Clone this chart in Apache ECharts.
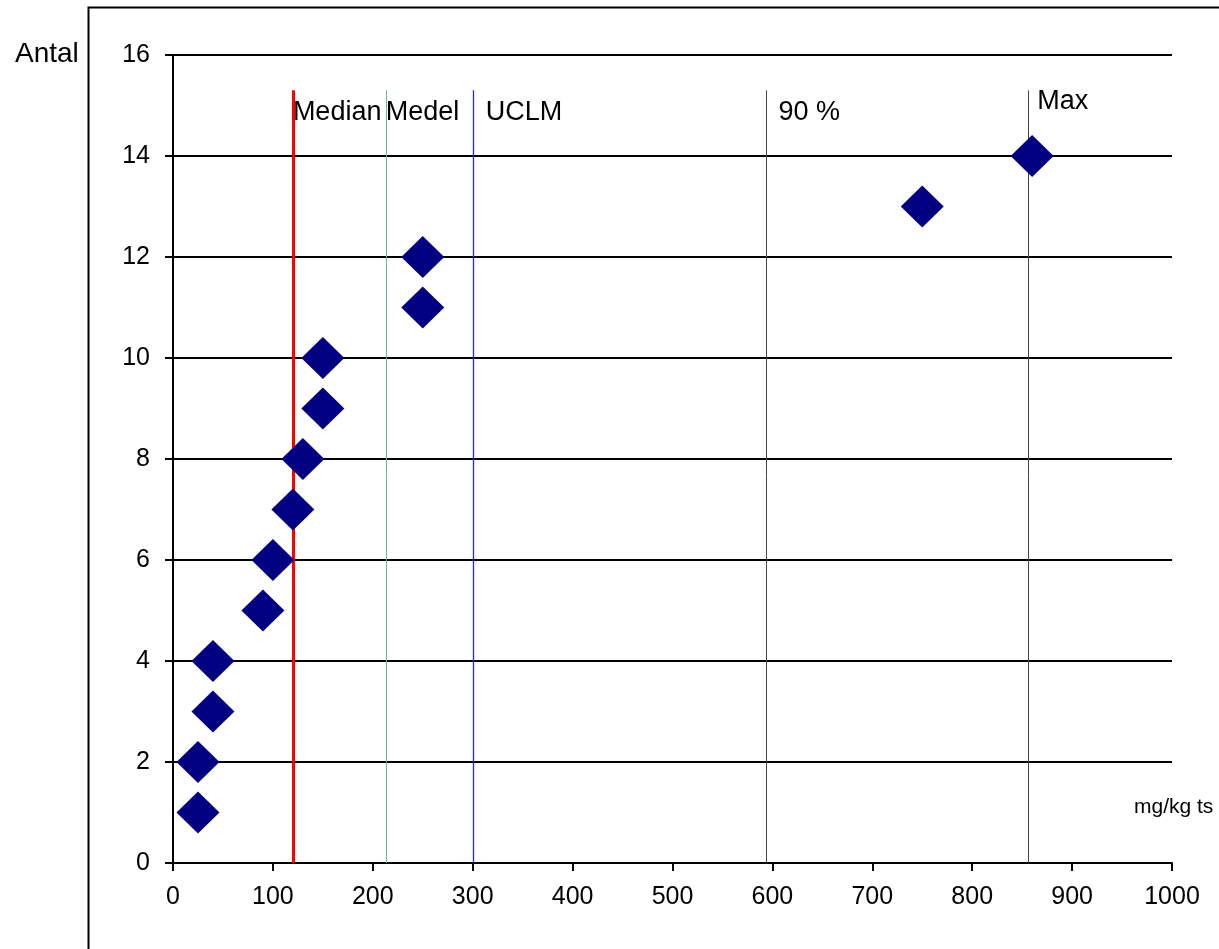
<!DOCTYPE html>
<html><head><meta charset="utf-8">
<script src="https://cdn.jsdelivr.net/npm/echarts@6/dist/echarts.min.js"></script>
<style>html,body{margin:0;padding:0;background:#fff}#c{width:1219px;height:949px}</style>
</head><body><div id="c"></div>
<script>
const countY = [1,2,3,4,5,6,7,8,9,10,11,12,13,14];
const valueX = [25,25,40,40,90,100,120,130,150,150,250,250,750,860];
const refNames = ['Median','Medel','UCLM','90 %','Max'];
const refValues = [120,213,301,594,856];
const refColors = ['#ff0000','#66bb88','#1a2aff','#444444','#444444'];
const refWidths = [3,1,1.3,1,1];
const labelY = [14.87,14.87,14.87,14.87,15.07];
const yTicks = [0,2,4,6,8,10,12,14,16];
const xTicks = [0,100,200,300,400,500,600,700,800,900,1000];

const chart = echarts.init(document.getElementById('c'));
const font = 'Liberation Sans, Arial, sans-serif';
const pts = valueX.map((v,i)=>[v,countY[i]]);
const labelOffsets = [0,0,12,12,9];
chart.setOption({
  animation:false,
  grid:{left:173,top:55,width:999,height:808,containLabel:false},
  xAxis:{type:'value',min:0,max:1000,interval:100,
    axisLine:{show:true,onZero:false,lineStyle:{color:'#000',width:2}},
    axisTick:{show:true,length:8,lineStyle:{color:'#000',width:2}},
    splitLine:{show:false},
    axisLabel:{color:'#000',fontSize:25,fontFamily:font,margin:22,
      formatter:v=>xTicks.includes(v)?String(v):''}},
  yAxis:{type:'value',min:0,max:16,interval:2,
    axisLine:{show:true,lineStyle:{color:'#000',width:2}},
    axisTick:{show:true,length:8,lineStyle:{color:'#000',width:2}},
    splitLine:{show:true,lineStyle:{color:'#000',width:2}},
    axisLabel:{color:'#000',fontSize:25,fontFamily:font,margin:23,
      formatter:v=>yTicks.includes(v)?String(v):''}},
  series:refValues.map((v,i)=>({type:'line',data:[],silent:true,
     markLine:{silent:true,symbol:'none',animation:false,label:{show:false},
       lineStyle:{color:refColors[i],width:refWidths[i],type:'solid',opacity:1},
       data:[[{coord:[v,15.3]},{coord:[v,0]}]]}})).concat([
    {type:'scatter',symbol:'diamond',symbolSize:[43,42],itemStyle:{color:'#000080',opacity:1},data:pts,z:5},
    {type:'scatter',symbolSize:0,silent:true,z:6,itemStyle:{opacity:1},
     data:refValues.map((v,i)=>({value:[v,labelY[i]],name:refNames[i],
       label:{show:true,position:'right',distance:labelOffsets[i],formatter:refNames[i],color:'#000',fontSize:27,fontFamily:font}}))}
  ]),
  graphic:[
    {type:'rect',left:86,top:5,shape:{width:1200,height:1000},style:{fill:'none',stroke:'#000',lineWidth:2},silent:true},
    {type:'text',left:15,top:40,style:{text:'Antal',fontSize:28,fontFamily:font,fill:'#000'}},
    {type:'text',left:1134,top:797,style:{text:'mg/kg ts',fontSize:21,fontFamily:font,fill:'#000'}}
  ]
});
</script></body></html>
